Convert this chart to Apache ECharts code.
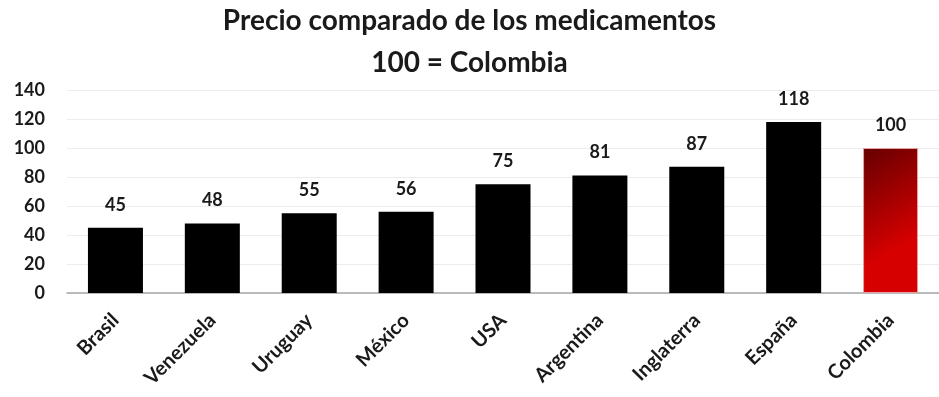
<!DOCTYPE html>
<html>
<head>
<meta charset="utf-8">
<script src="https://cdn.jsdelivr.net/npm/echarts@6/dist/echarts.min.js"></script>
<style>
  html, body { margin: 0; padding: 0; background: #fff; }
  #chart { width: 939px; height: 397px; }
</style>
</head>
<body>
<div id="chart"></div>
<script>
// Relative medicine prices, indexed so that Colombia = 100
const countries = ['Brasil', 'Venezuela', 'Uruguay', 'México', 'USA', 'Argentina', 'Inglaterra', 'España', 'Colombia'];
const priceIndex = [45, 48, 55, 56, 75, 81, 87, 118, 100];
const yTicks = [0, 20, 40, 60, 80, 100, 120, 140];

const FONT = 'Lato, "Open Sans", sans-serif';

const chart = echarts.init(document.getElementById('chart'));

const barData = priceIndex.map((v, i) => {
  if (countries[i] === 'Colombia') {
    return {
      value: v,
      itemStyle: {
        color: new echarts.graphic.LinearGradient(0, 0, 1, 0.6, [
          { offset: 0, color: '#650000' },
          { offset: 1, color: '#d60000' }
        ]),
        borderColor: '#e8a0a0',
        borderWidth: 1
      }
    };
  }
  return v;
});

chart.setOption({
  animation: false,
  title: {
    text: 'Precio comparado de los medicamentos\n100 = Colombia',
    left: 'center',
    top: 0,
    padding: 0,
    textStyle: {
      fontFamily: FONT,
      fontWeight: 'bold',
      fontSize: 28,
      lineHeight: 42,
      color: '#1a1a1a'
    }
  },
  grid: { left: 67, right: -5, top: 90, bottom: 104 },
  xAxis: {
    type: 'category',
    data: countries,
    axisLine: { lineStyle: { color: '#a6a6a6', width: 1.5 } },
    axisTick: { show: false },
    axisLabel: {
      rotate: 45,
      interval: 0,
      margin: 24,
      fontFamily: FONT,
      fontWeight: 'bold',
      fontSize: 20,
      color: '#1a1a1a'
    }
  },
  yAxis: {
    type: 'value',
    min: yTicks[0],
    max: yTicks[yTicks.length - 1],
    interval: yTicks[1] - yTicks[0],
    axisLine: { show: false },
    axisTick: { show: false },
    splitLine: { lineStyle: { color: '#ececec', width: 1 } },
    axisLabel: {
      margin: 22,
      fontFamily: FONT,
      fontWeight: 'bold',
      fontSize: 18,
      color: '#1a1a1a'
    }
  },
  series: [{
    type: 'bar',
    data: barData,
    barWidth: 55,
    itemStyle: { color: '#000000' },
    label: {
      show: true,
      position: 'top',
      distance: 14,
      fontFamily: FONT,
      fontWeight: 'bold',
      fontSize: 18,
      color: '#1a1a1a'
    }
  }]
});
</script>
</body>
</html>
